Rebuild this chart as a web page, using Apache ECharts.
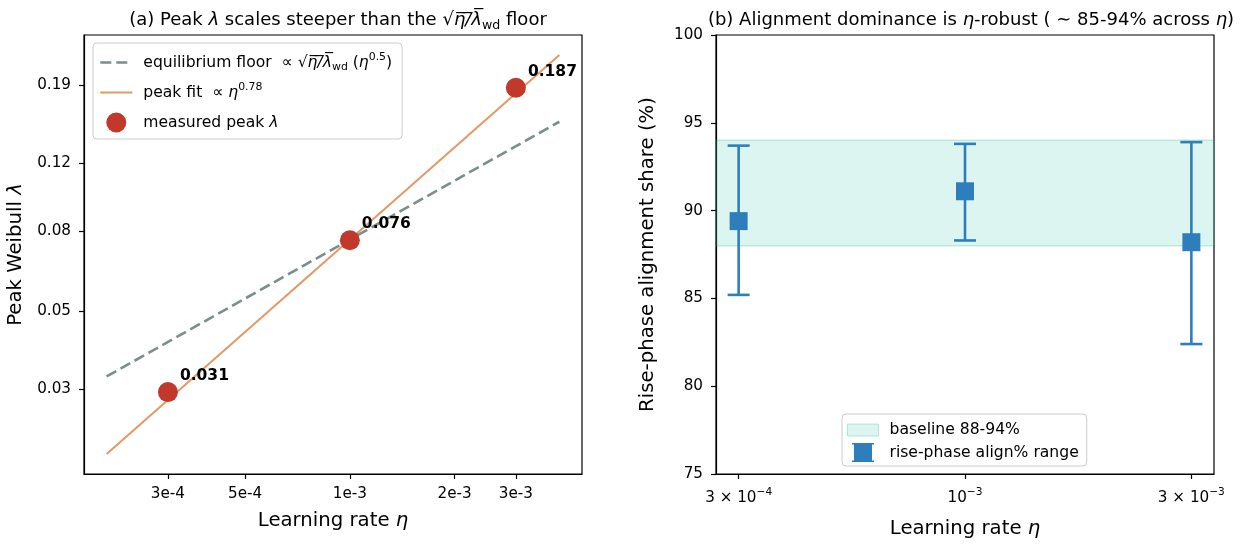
<!DOCTYPE html>
<html lang="en">
<head>
<meta charset="UTF-8">
<title>Peak lambda vs learning rate</title>
<script src="https://cdn.jsdelivr.net/npm/echarts@6/dist/echarts.min.js"></script>
<style>
  html, body { margin: 0; padding: 0; background: #fff; }
  #chart { width: 1245px; height: 544px; }
</style>
</head>
<body>
<div id="chart"></div>
<script>
// panel (a): peak Weibull lambda vs learning rate
const peakEta = [3e-4, 1e-3, 3e-3];
const peakLambda = [0.031, 0.076, 0.187];
const lineEta = [2e-4, 4e-3];
const fitLambda = [0.0215, 0.227];    // peak fit ~ eta^0.78
const floorLambda = [0.034, 0.153];   // equilibrium floor ~ eta^0.5
const etaTicks = [3e-4, 5e-4, 1e-3, 2e-3, 3e-3];
const etaTickLabels = ['3e-4', '5e-4', '1e-3', '2e-3', '3e-3'];
const lamTicks = [0.0316, 0.05, 0.08, 0.12, 0.19];
const lamTickLabels = ['0.03', '0.05', '0.08', '0.12', '0.19'];

// panel (b): rise-phase alignment share
const lrLabels = ['3 × 10{sup|−4}', '10{sup|−3}', '3 × 10{sup|−3}'];
const alignMid = [89.4, 91.1, 88.2];
const alignLow = [85.2, 88.3, 82.4];
const alignHigh = [93.7, 93.8, 93.9];
const baseline = [88, 94];

const FONT = 'DejaVu Sans';
const GRAY = '#7f8c8d', ORANGE = '#e59866', RED = '#c0392b', BLUE = '#2e7ebb';
const AX = { color: '#000', width: 1.2 };
const TICK = 15.2, LABEL = 19.7, TITLE = 18, LEG = 15.6;

const L = v => Math.log10(v);
function logExtent(lo, hi) {
  const a = L(lo), b = L(hi), m = (b - a) * 0.05;
  return [a - m, b + m];
}
const xr = logExtent(lineEta[0], lineEta[1]);
const yr = logExtent(fitLambda[0], fitLambda[1]);

function pickLabel(vals, labels) {
  return v => {
    const i = vals.findIndex(t => Math.abs(L(t) - v) < 1e-6);
    return i < 0 ? '' : labels[i];
  };
}

function rich(size) {
  const small = Math.round(size * 0.7 * 10) / 10;
  return {
    it: { fontStyle: 'italic', fontSize: size, color: '#000', fontFamily: FONT },
    ov: { fontStyle: 'italic', fontSize: size, color: '#000', fontFamily: FONT },
    sup: { fontSize: small, verticalAlign: 'top', color: '#000', fontFamily: FONT },
    sub: { fontSize: small, verticalAlign: 'bottom', color: '#000', fontFamily: FONT }
  };
}

const radicand = '√{ov|η̅/̅λ̅}{sub|wd}';
const legendText = {
  'equilibrium floor': 'equilibrium floor  ∝ ' + radicand + ' ({it|η}{sup|0.5})',
  'peak fit': 'peak fit  ∝ {it|η}{sup|0.78}',
  'measured peak': 'measured peak {it|λ}'
};
const hideSymbol = { color: 'rgba(0,0,0,0)', opacity: 0, borderWidth: 0 };

const chart = echarts.init(document.getElementById('chart'));
chart.setOption({
  animation: false,
  backgroundColor: '#fff',
  textStyle: { fontFamily: FONT },
  title: [{
    text: '(a) Peak {it|λ} scales steeper than the ' + radicand + ' floor',
    left: 333, top: 3, textAlign: 'center',
    textStyle: { fontSize: TITLE, fontWeight: 'normal', color: '#000', lineHeight: 24, fontFamily: FONT, rich: rich(TITLE) }
  }, {
    text: '(b) Alignment dominance is {it|η}-robust ( ∼ 85-94% across {it|η})',
    left: 966, top: 3, textAlign: 'center',
    textStyle: { fontSize: TITLE, fontWeight: 'normal', color: '#000', lineHeight: 24, fontFamily: FONT, rich: rich(TITLE) }
  }],
  grid: [
    { left: 84, right: 663, top: 35, bottom: 70, show: true, borderColor: '#000', borderWidth: 1.2, backgroundColor: 'transparent' },
    { left: 716, right: 31, top: 35, bottom: 70, show: true, borderColor: '#000', borderWidth: 1.2, backgroundColor: 'transparent' }
  ],
  legend: [{
    orient: 'vertical', left: 93, top: 43,
    padding: [9, 10, 6, 6], itemGap: 9, itemWidth: 32, itemHeight: 20,
    backgroundColor: 'rgba(255,255,255,0.85)', borderColor: '#ccc', borderWidth: 1, borderRadius: 4,
    data: [
      { name: 'equilibrium floor', itemStyle: hideSymbol, lineStyle: { color: GRAY, width: 2.6, type: [11, 5] } },
      { name: 'peak fit', itemStyle: hideSymbol, lineStyle: { color: ORANGE, width: 2 } },
      { name: 'measured peak' }
    ],
    formatter: n => legendText[n],
    textStyle: { fontSize: LEG, color: '#000', lineHeight: 21, padding: [0, 0, 0, 6], fontFamily: FONT, rich: rich(LEG) }
  }, {
    orient: 'vertical', left: 842, top: 414,
    padding: [8, 8, 4, 5], itemGap: 5, itemWidth: 31, itemHeight: 19,
    backgroundColor: 'rgba(255,255,255,0.85)', borderColor: '#ccc', borderWidth: 1, borderRadius: 4,
    data: [
      { name: 'baseline 88-94%', icon: 'path://M0,0H31V12H0Z', itemStyle: { color: 'rgba(26,188,156,0.15)', borderColor: 'rgba(26,188,156,0.3)', borderWidth: 1 } },
      { name: 'rise-phase align% range', icon: 'path://M0,0H22V1.6H20V17.4H22V19H0V17.4H2V1.6H0Z', itemStyle: { color: BLUE } }
    ],
    textStyle: { fontSize: LEG, color: '#000', padding: [0, 0, 0, 6], fontFamily: FONT }
  }],
  xAxis: [{
    gridIndex: 0, type: 'value', min: xr[0], max: xr[1],
    name: 'Learning rate {it|η}', nameLocation: 'middle', nameGap: 37,
    nameTextStyle: { fontSize: LABEL, color: '#000', fontFamily: FONT, rich: rich(LABEL) },
    axisLine: { show: true, onZero: false, lineStyle: AX },
    axisTick: { show: true, length: 5, lineStyle: AX, customValues: etaTicks.map(L) },
    axisLabel: { customValues: etaTicks.map(L), formatter: pickLabel(etaTicks, etaTickLabels), fontSize: TICK, color: '#000', margin: 13 },
    splitLine: { show: false }
  }, {
    gridIndex: 1, type: 'value', min: -0.1, max: 2.1,
    name: 'Learning rate {it|η}', nameLocation: 'middle', nameGap: 45,
    nameTextStyle: { fontSize: LABEL, color: '#000', fontFamily: FONT, rich: rich(LABEL) },
    axisLine: { show: true, onZero: false, lineStyle: AX },
    axisTick: { show: true, length: 5, lineStyle: AX, customValues: [0, 1, 2] },
    axisLabel: {
      customValues: [0, 1, 2], formatter: v => lrLabels[Math.round(v)] || '',
      fontSize: TICK, color: '#000', margin: 13, lineHeight: 22, rich: rich(TICK)
    },
    splitLine: { show: false }
  }],
  yAxis: [{
    gridIndex: 0, type: 'value', min: yr[0], max: yr[1],
    name: 'Peak Weibull {it|λ}', nameLocation: 'middle', nameGap: 58,
    nameTextStyle: { fontSize: LABEL, color: '#000', fontFamily: FONT, rich: rich(LABEL) },
    axisLine: { show: true, onZero: false, lineStyle: AX },
    axisTick: { show: true, length: 5, lineStyle: AX, customValues: lamTicks.map(L) },
    axisLabel: { customValues: lamTicks.map(L), formatter: pickLabel(lamTicks, lamTickLabels), fontSize: TICK, color: '#000', margin: 13 },
    splitLine: { show: false }
  }, {
    gridIndex: 1, type: 'value', min: 75, max: 100, interval: 5,
    name: 'Rise-phase alignment share (%)', nameLocation: 'middle', nameGap: 58,
    nameTextStyle: { fontSize: LABEL, color: '#000', fontFamily: FONT },
    axisLine: { show: true, onZero: false, lineStyle: AX },
    axisTick: { show: true, length: 5, lineStyle: AX },
    axisLabel: { fontSize: TICK, color: '#000', margin: 13 },
    splitLine: { show: false }
  }],
  series: [{
    name: 'peak fit', type: 'line', xAxisIndex: 0, yAxisIndex: 0,
    data: lineEta.map((e, i) => [L(e), L(fitLambda[i])]),
    symbol: 'none', silent: true, z: 2,
    lineStyle: { color: ORANGE, width: 2 }, itemStyle: { color: ORANGE }
  }, {
    name: 'equilibrium floor', type: 'line', xAxisIndex: 0, yAxisIndex: 0,
    data: lineEta.map((e, i) => [L(e), L(floorLambda[i])]),
    symbol: 'none', silent: true, z: 3,
    lineStyle: { color: GRAY, width: 2.6, type: [11, 5] }, itemStyle: { color: GRAY }
  }, {
    name: 'measured peak', type: 'scatter', xAxisIndex: 0, yAxisIndex: 0,
    data: peakEta.map((e, i) => [L(e), L(peakLambda[i])]),
    symbol: 'circle', symbolSize: 20, z: 5,
    itemStyle: { color: RED, opacity: 1 },
    label: {
      show: true, position: 'right', distance: 2, offset: [0, -16],
      formatter: p => peakLambda[p.dataIndex].toFixed(3),
      fontSize: 15.5, fontWeight: 'bold', color: '#000', fontFamily: FONT
    }
  }, {
    name: 'baseline 88-94%', type: 'line', xAxisIndex: 1, yAxisIndex: 1,
    data: [], symbol: 'none', silent: true,
    itemStyle: { color: 'rgba(26,188,156,0.15)' },
    markArea: {
      silent: true,
      itemStyle: { color: 'rgba(26,188,156,0.15)', borderColor: 'rgba(26,188,156,0.25)', borderWidth: 1.5 },
      data: [[{ yAxis: baseline[0] }, { yAxis: baseline[1] }]]
    }
  }, {
    name: 'rise-phase align% range', type: 'custom', xAxisIndex: 1, yAxisIndex: 1,
    data: alignMid.map((m, i) => [i, m, alignLow[i], alignHigh[i]]),
    encode: { x: 0, y: [1, 2, 3] },
    itemStyle: { color: BLUE }, z: 5,
    renderItem: (params, api) => {
      const x = api.value(0);
      const c = api.coord([x, api.value(1)]);
      const lo = api.coord([x, api.value(2)]);
      const hi = api.coord([x, api.value(3)]);
      const cap = 11, half = 9;
      const ls = { stroke: BLUE, lineWidth: 2.6 };
      return {
        type: 'group',
        children: [
          { type: 'line', shape: { x1: lo[0], y1: lo[1], x2: hi[0], y2: hi[1] }, style: ls },
          { type: 'line', shape: { x1: lo[0] - cap, y1: lo[1], x2: lo[0] + cap, y2: lo[1] }, style: ls },
          { type: 'line', shape: { x1: hi[0] - cap, y1: hi[1], x2: hi[0] + cap, y2: hi[1] }, style: ls },
          { type: 'rect', shape: { x: c[0] - half, y: c[1] - half, width: half * 2, height: half * 2 }, style: { fill: BLUE } }
        ]
      };
    }
  }]
});
</script>
</body>
</html>
